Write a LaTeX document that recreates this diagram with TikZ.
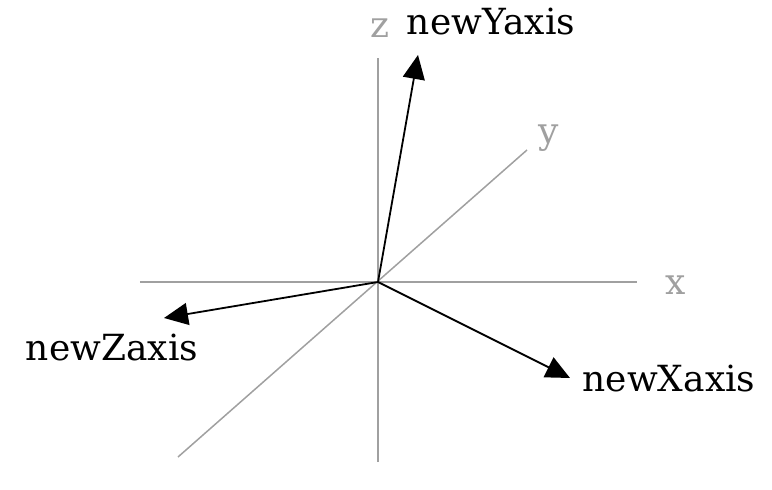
\documentclass[tikz,border=0pt]{standalone}
\usepackage{fontspec}
\setmainfont{DejaVu Serif}
\usetikzlibrary{arrows.meta}
\definecolor{axisgray}{RGB}{160,160,160}

\begin{document}
\begin{tikzpicture}[x=1pt, y=1pt,
        oldaxis/.style={draw=axisgray, line width=1.5pt},
        oldlabel/.style={text=axisgray, font=\fontsize{36}{40}\selectfont, inner sep=0pt},
        newaxis/.style={draw=black, line width=1.8pt, -{Triangle[length=24pt, width=22pt]}},
        newlabel/.style={text=black, font=\fontsize{36}{40}\selectfont, inner sep=0pt}]
        \useasboundingbox (-378,-208) rectangle (394,282);

        % Old axes (gray)
        \coordinate (o) at (0,0);
        \coordinate (xl) at (-238,0);
        \coordinate (xr) at (259,0);
        \coordinate (zb) at (0,-180);
        \coordinate (zt) at (0,224);
        \coordinate (yb) at (-200,-175);
        \coordinate (yt) at (149,132);
        \draw[oldaxis] (xl) -- (xr);
        \draw[oldaxis] (zb) -- (zt);
        \draw[oldaxis] (yb) -- (yt);

        % Old axis labels
        \node[oldlabel] (xlab) at (298,-3) {x};
        \node[oldlabel] (ylab) at (171,144) {y};
        \node[oldlabel] (zlab) at (2,254) {z};

        % New axes (black arrows)
        \coordinate (nx) at (192,-96);
        \coordinate (ny) at (40,227);
        \coordinate (nz) at (-214,-36);
        \draw[newaxis] (o) -- (nx);
        \draw[newaxis] (o) -- (ny);
        \draw[newaxis] (o) -- (nz);

        % New axis labels
        \node[newlabel] (nxlab) at (291,-97) {newXaxis};
        \node[newlabel] (nylab) at (113,260) {newYaxis};
        \node[newlabel] (nzlab) at (-266,-66) {newZaxis};
    \end{tikzpicture}
\end{document}
